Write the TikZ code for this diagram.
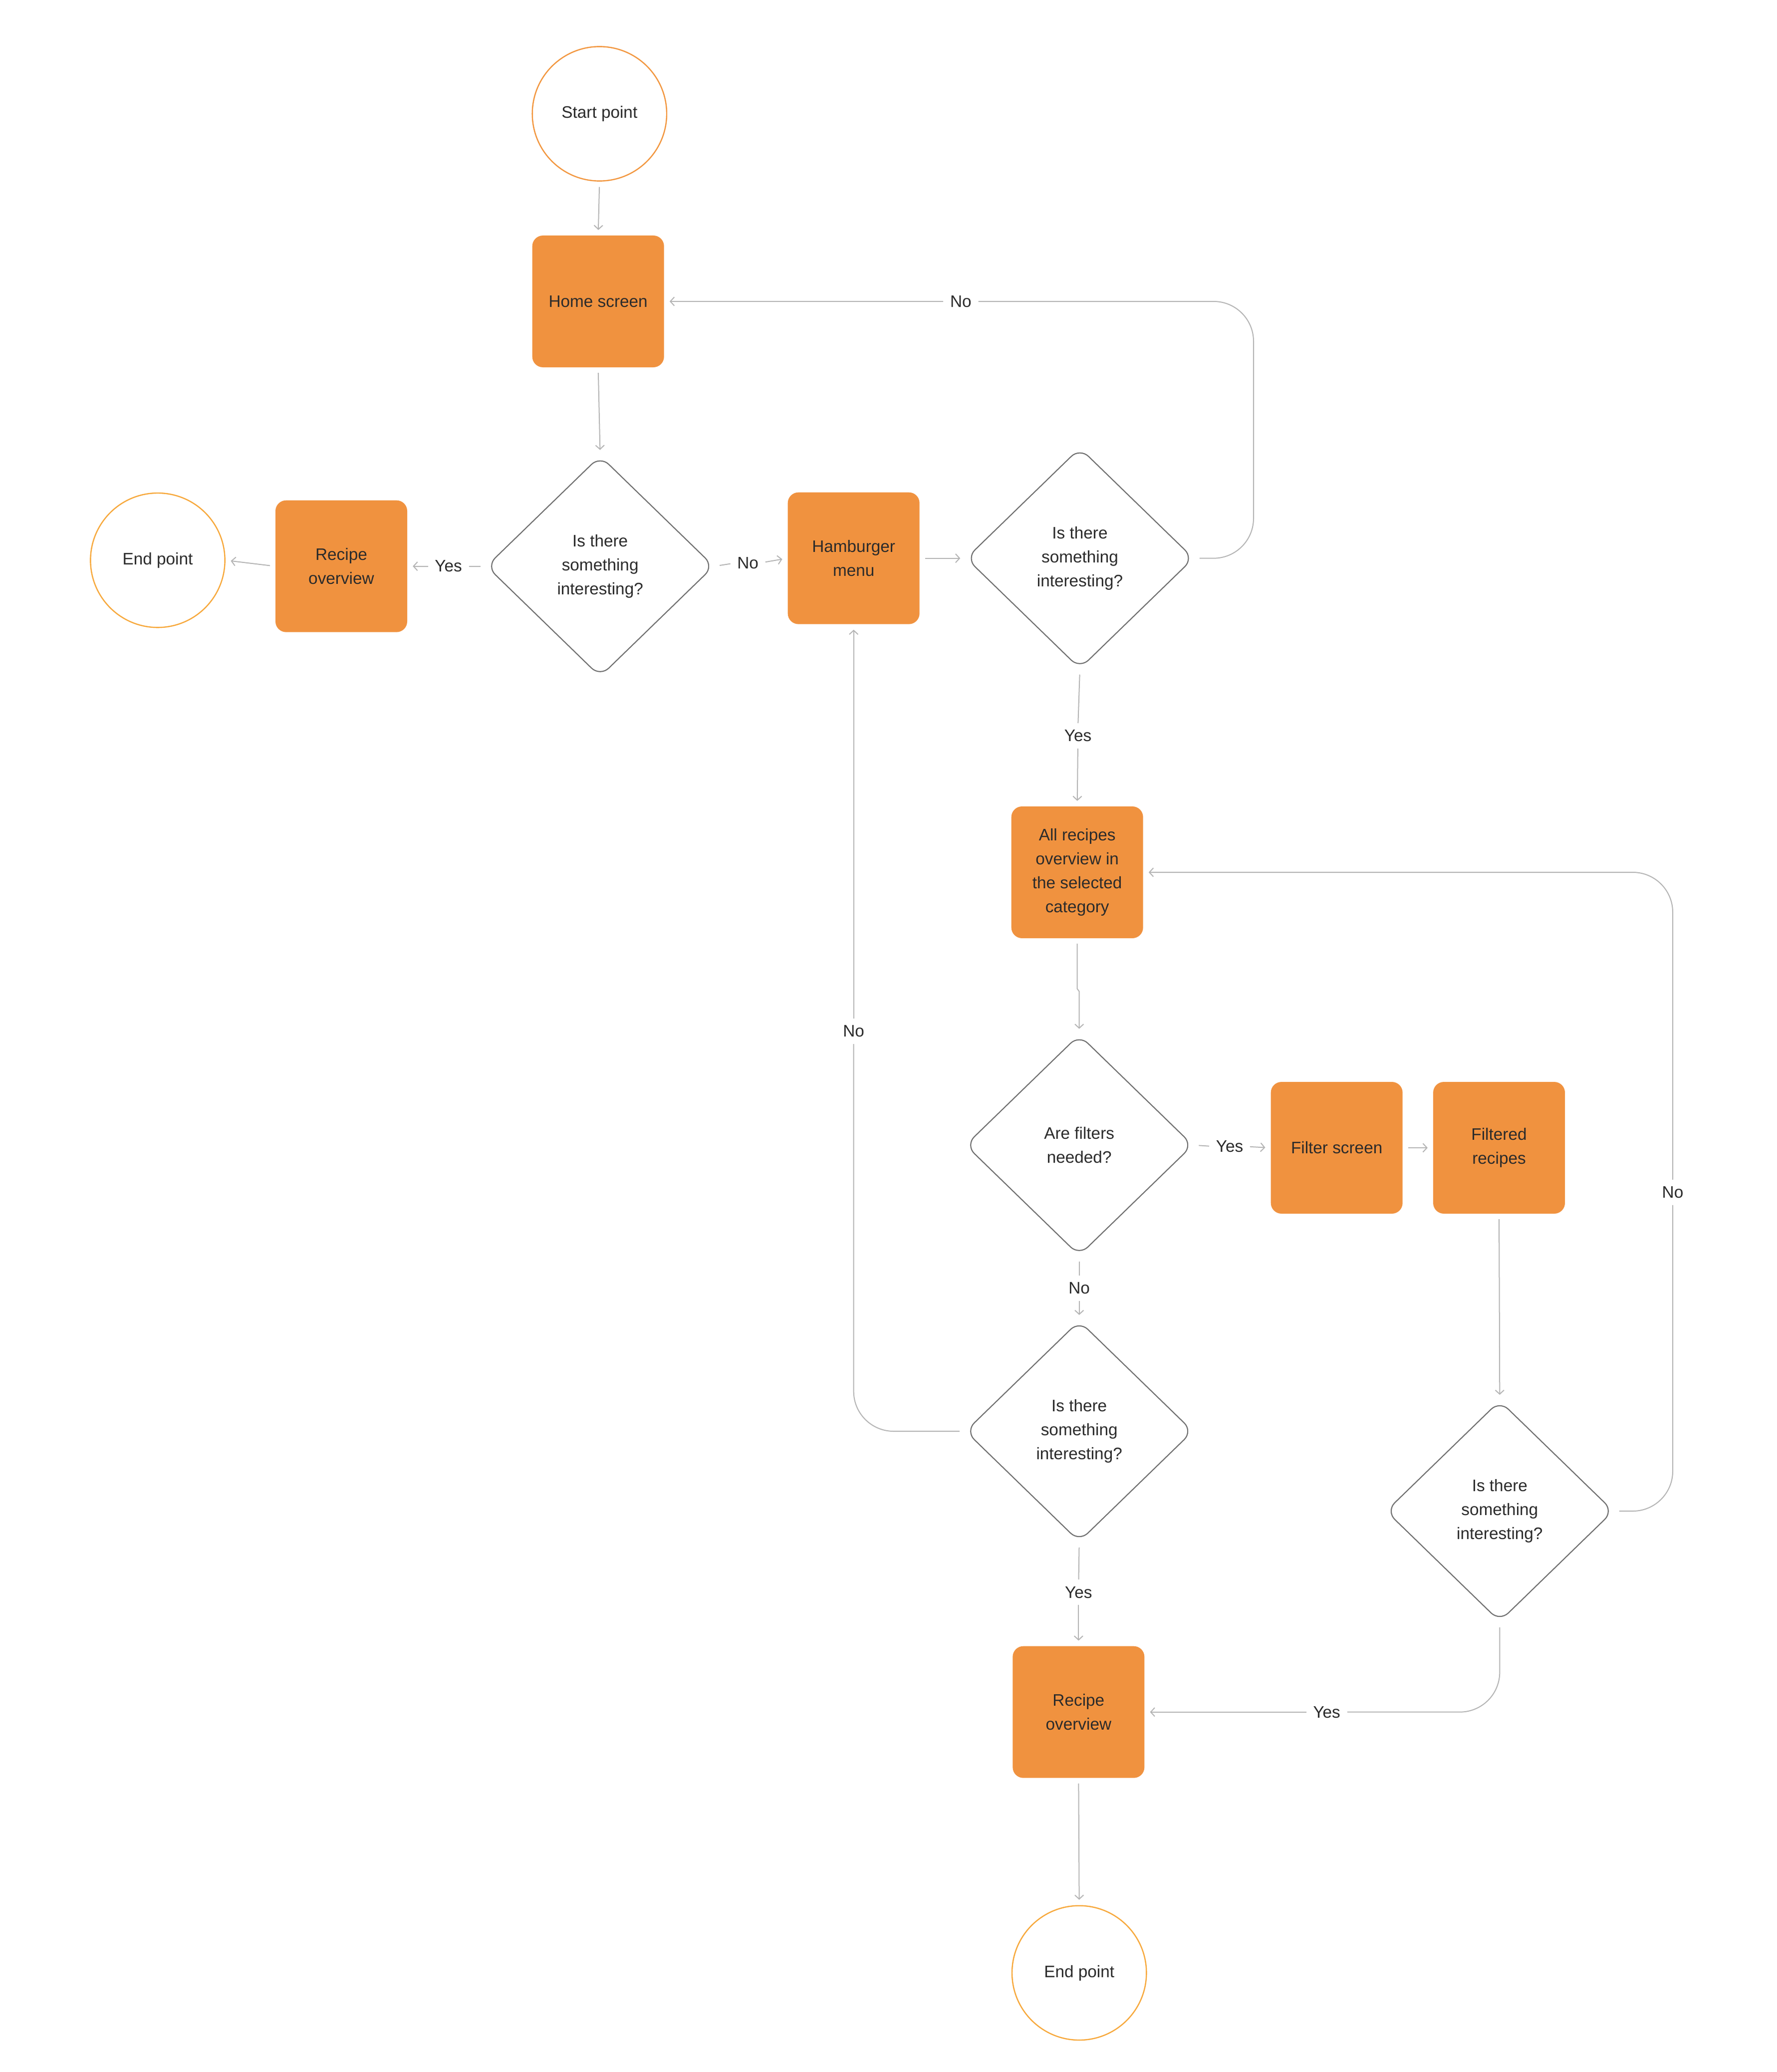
\documentclass[tikz,border=0pt]{standalone}
\usepackage{fontspec}
\setmainfont{Liberation Sans}
\usetikzlibrary{shapes.geometric,arrows.meta}
\definecolor{boxfill}{HTML}{F0923F}
\definecolor{ringA}{HTML}{F2963E}
\definecolor{ringB}{HTML}{F7A83B}
\definecolor{linegray}{HTML}{B4B4B4}
\definecolor{dgray}{HTML}{6F6F6F}
\definecolor{txt}{HTML}{2B2B2B}
\begin{document}
\begin{tikzpicture}[x=1pt,y=-1pt,
 every node/.style={font=\fontsize{12.5}{18}\selectfont, text=txt},
 box/.style={rectangle, rounded corners=8pt, fill=boxfill, minimum width=99pt, minimum height=99pt, inner sep=2pt, align=center},
 ring/.style={circle, draw=ringB, line width=0.9pt, minimum size=101pt, inner sep=0pt, fill=white},
 dec/.style={diamond, draw=dgray, line width=0.8pt, rounded corners=9pt, minimum width=171pt, minimum height=166pt, inner sep=0pt, align=center},
 lab/.style={inner sep=1pt},
 conn/.style={draw=linegray, line width=0.75pt, shorten <=4pt, shorten >=4pt},
 arr/.style={conn, -{Straight Barb[length=3pt,width=6.5pt]}}
]
\fill[white] (0,0) rectangle (1335,1557);
\useasboundingbox (0,0) rectangle (1335,1557);

% nodes
\node[ring, draw=ringA] (start) at (450.5,85.5) {Start point};
\node[box] (home) at (449.5,226.5) {Home screen};
\node[dec] (d1) at (451,425.5) {Is there\\something\\interesting?};
\node[box] (ro1) at (256.5,425.5) {Recipe\\overview};
\node[ring] (e1) at (118.5,421) {End point};
\node[box] (ham) at (641.5,419.5) {Hamburger\\menu};
\node[dec] (d2) at (811.5,419.5) {Is there\\something\\interesting?};
\node[box] (allrec) at (809.5,655.5) {All recipes\\overview in\\the selected\\category};
\node[dec] (d3) at (811,860.5) {Are filters\\needed?};
\node[box] (fs) at (1004.5,862.5) {Filter screen};
\node[box] (fr) at (1126.5,862.5) {Filtered\\recipes};
\node[dec] (d4) at (811,1075.5) {Is there\\something\\interesting?};
\node[dec] (d5) at (1127,1135.5) {Is there\\something\\interesting?};
\node[box] (ro2) at (810.5,1286.5) {Recipe\\overview};
\node[ring] (e2) at (811,1482.5) {End point};

% labels
\node[lab] (noTop) at (722,226.5) {No};
\node[lab] (yes1) at (337,425.5) {Yes};
\node[lab] (no1) at (562,423) {No};
\node[lab] (yes2) at (810,553) {Yes};
\node[lab] (yes3) at (924,861.5) {Yes};
\node[lab] (no3) at (811,968) {No};
\node[lab] (no4) at (641.5,775) {No};
\node[lab] (yes4) at (810.5,1196.5) {Yes};
\node[lab] (no5) at (1257,896) {No};
\node[lab] (yes5) at (997,1286.5) {Yes};

% corner coordinates
\coordinate (c1) at (942,419.5);
\coordinate (c2) at (942,226.5);
\coordinate (c3) at (1257,1135.5);
\coordinate (c4) at (1257,655.5);
\coordinate (c5) at (1127,1286.5);
\coordinate (c6) at (641.5,1075.5);
\coordinate (j1) at (809.5,743);
\coordinate (j2) at (811,745);

% connectors
\draw[arr] (start.south) -- (home.north);
\draw[arr] (home.south) -- (d1.north);
\draw[conn] (d1.west) -- (yes1.east);
\draw[arr] (yes1.west) -- (ro1.east);
\draw[arr] (ro1.west) -- (e1.east);
\draw[conn] (d1.east) -- (no1.west);
\draw[arr] (no1.east) -- (ham.west);
\draw[arr] (ham.east) -- (d2.west);
\draw[conn, rounded corners=30pt] (d2.east) -- (c1) -- (c2) -- (noTop.east);
\draw[arr] (noTop.west) -- (home.east);
\draw[conn] (d2.south) -- (yes2.north);
\draw[arr] (yes2.south) -- (allrec.north);
\draw[arr] (allrec.south) -- (j1) -- (j2) -- (d3.north);
\draw[conn] (d3.east) -- (yes3.west);
\draw[arr] (yes3.east) -- (fs.west);
\draw[arr] (fs.east) -- (fr.west);
\draw[arr] (fr.south) -- (d5.north);
\draw[conn, rounded corners=30pt] (d5.east) -- (c3) -- (no5.south);
\draw[arr, rounded corners=30pt] (no5.north) -- (c4) -- (allrec.east);
\draw[conn, rounded corners=30pt] (d5.south) -- (c5) -- (yes5.east);
\draw[arr] (yes5.west) -- (ro2.east);
\draw[conn] (d3.south) -- (no3.north);
\draw[arr] (no3.south) -- (d4.north);
\draw[conn, rounded corners=30pt] (d4.west) -- (c6) -- (no4.south);
\draw[arr] (no4.north) -- (ham.south);
\draw[conn] (d4.south) -- (yes4.north);
\draw[arr] (yes4.south) -- (ro2.north);
\draw[arr] (ro2.south) -- (e2.north);
\end{tikzpicture}
\end{document}
